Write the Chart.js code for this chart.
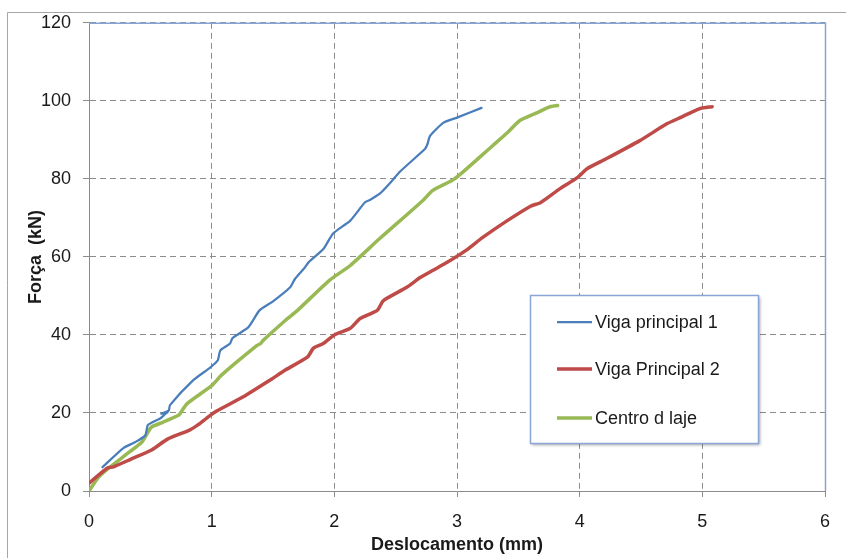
<!DOCTYPE html>
<html lang="pt">
  <head>
    <meta charset="UTF-8" />
    <script src="https://cdn.jsdelivr.net/npm/chart.js@4.4.1/dist/chart.umd.min.js"></script>
    <style>
      body { margin: 0; background: #fff; }
      #wrap { width: 846px; height: 558px; }
    </style>
  </head>
  <body>
    <div id="wrap">
      <canvas id="myChart" width="846" height="558"></canvas>
    </div>

    <script>
      // series names
      const seriesNames = ["Viga principal 1", "Viga Principal 2", "Centro d laje"];

      // Viga principal 1 (blue)
      const viga1X = [0.11, 0.28, 0.375, 0.46, 0.48, 0.58, 0.61, 0.64, 0.59, 0.65, 0.66, 0.85, 0.99, 1.05, 1.07, 1.15, 1.17, 1.3, 1.39, 1.5, 1.64, 1.68, 1.76, 1.79, 1.91, 1.99, 2.13, 2.25, 2.29, 2.37, 2.45, 2.54, 2.74, 2.76, 2.78, 2.89, 3.0, 3.2];
      const viga1Y = [6.1, 11, 12.5, 14.3, 16.9, 18.6, 19.4, 20.2, 19.8, 20.6, 22, 28.4, 31.7, 33.5, 36, 37.8, 39.2, 42, 46.3, 48.6, 52.2, 54.4, 57.3, 58.6, 62, 66, 69.3, 74, 74.6, 76.2, 78.8, 82, 87.7, 89, 91, 94.4, 95.7, 98.2];

      // Viga Principal 2 (red)
      const viga2X = [0, 0.15, 0.2, 0.33, 0.51, 0.64, 0.82, 0.89, 0.96, 1.03, 1.25, 1.48, 1.6, 1.78, 1.83, 1.91, 2.0, 2.13, 2.21, 2.35, 2.4, 2.59, 2.7, 2.8, 2.92, 3.07, 3.21, 3.41, 3.6, 3.68, 3.84, 3.98, 4.06, 4.22, 4.49, 4.71, 4.82, 4.98, 5.08];
      const viga2Y = [2, 5.9, 6.2, 8, 10.5, 13.3, 15.6, 17, 18.7, 20.3, 24, 28.5, 31, 34.3, 36.6, 37.8, 40, 41.7, 44.2, 46.3, 48.8, 52.2, 54.7, 56.5, 58.6, 61.6, 65, 69.3, 73, 73.9, 77.5, 80.3, 82.6, 85.2, 89.8, 94.1, 95.7, 98, 98.5];

      // Centro d laje (green)
      const lajeX = [0, 0.08, 0.17, 0.33, 0.43, 0.47, 0.51, 0.6, 0.73, 0.75, 0.8, 1.0, 1.08, 1.37, 1.4, 1.42, 1.6, 1.7, 1.96, 2.13, 2.37, 2.72, 2.8, 2.98, 3.29, 3.41, 3.51, 3.65, 3.75, 3.82];
      const lajeY = [0, 3.6, 6.1, 10, 12.5, 14.5, 16.4, 17.6, 19.4, 20.2, 22.4, 27, 29.7, 37.3, 37.8, 38.6, 43.7, 46.3, 54, 57.8, 64.7, 74.4, 77, 80, 88.5, 91.8, 94.9, 96.9, 98.4, 98.8];

      // axis ticks
      const xTicks = [0, 1, 2, 3, 4, 5, 6];
      const yTicks = [0, 20, 40, 60, 80, 100, 120];

      const toPoints = (xs, ys) => xs.map((x, i) => ({ x: x, y: ys[i] }));
      const FONT = "'Liberation Sans', Arial, sans-serif";

      // frame: outer chart border, blue plot border (top/right), legend box
      const framePlugin = {
        id: "frame",
        beforeDraw(chart) {
          const c = chart.ctx;
          c.save();
          c.strokeStyle = "#a6a6a6";
          c.lineWidth = 1;
          c.beginPath();
          c.moveTo(7.5, 558);
          c.lineTo(7.5, 12.5);
          c.lineTo(846, 12.5);
          c.stroke();
          c.restore();
        },
        beforeDatasetsDraw(chart) {
          const c = chart.ctx;
          const a = chart.chartArea;
          c.save();
          c.strokeStyle = "#86a4d4";
          c.lineWidth = 1.5;
          c.beginPath();
          c.moveTo(a.left, a.top + 0.5);
          c.lineTo(a.right + 0.5, a.top + 0.5);
          c.lineTo(a.right + 0.5, a.bottom);
          c.stroke();
          c.restore();
        },
        afterDatasetsDraw(chart) {
          const c = chart.ctx;
          const bx = 530, by = 295, bw = 228, bh = 148;
          c.save();
          c.shadowColor = "rgba(0,0,0,0.35)";
          c.shadowBlur = 3;
          c.shadowOffsetX = 2;
          c.shadowOffsetY = 2;
          c.fillStyle = "#fff";
          c.fillRect(bx, by, bw, bh);
          c.restore();
          c.save();
          c.strokeStyle = "#8aa6d6";
          c.lineWidth = 1.5;
          c.strokeRect(bx + 0.5, by + 0.5, bw, bh);
          const rows = [322, 369, 418];
          c.font = "18px " + FONT;
          c.textBaseline = "middle";
          c.fillStyle = "#1a1a1a";
          chart.data.datasets.forEach((ds, i) => {
            c.strokeStyle = ds.borderColor;
            c.lineWidth = ds.borderWidth;
            c.beginPath();
            c.moveTo(557, rows[i]);
            c.lineTo(592, rows[i]);
            c.stroke();
            c.fillText(ds.label, 595, rows[i] + 1);
          });
          c.restore();
        },
      };

      const ctx = document.getElementById("myChart").getContext("2d");
      const myChart = new Chart(ctx, {
        type: "scatter",
        data: {
          datasets: [
            {
              label: seriesNames[0],
              data: toPoints(viga1X, viga1Y),
              borderColor: "#4a7ebb",
              borderWidth: 2.25,
            },
            {
              label: seriesNames[1],
              data: toPoints(viga2X, viga2Y),
              borderColor: "#be4b48",
              borderWidth: 3.5,
            },
            {
              label: seriesNames[2],
              data: toPoints(lajeX, lajeY),
              borderColor: "#98b954",
              borderWidth: 3.5,
            },
          ],
        },
        options: {
          responsive: false,
          animation: false,
          showLine: true,
          elements: {
            point: { radius: 0, hoverRadius: 0 },
            line: { tension: 0.2, borderCapStyle: "round", borderJoinStyle: "round" },
          },
          layout: { padding: { left: 0, top: 22, right: 21, bottom: 0 } },
          plugins: {
            legend: { display: false },
            tooltip: { enabled: false },
          },
          scales: {
            x: {
              type: "linear",
              min: 0,
              max: 6,
              afterFit: (scale) => { scale.height = 67; },
              afterBuildTicks: (scale) => { scale.ticks = xTicks.map((v) => ({ value: v })); },
              grid: {
                color: "#8c8c8c",
                tickColor: "#8c8c8c",
                tickLength: 6,
                tickBorderDash: [],
              },
              border: { color: "#8c8c8c", width: 1, dash: [6, 4] },
              ticks: {
                padding: 14,
                color: "#1a1a1a",
                font: { family: FONT, size: 18 },
              },
              title: {
                display: true,
                text: "Deslocamento (mm)",
                color: "#1a1a1a",
                font: { family: FONT, size: 18, weight: "bold" },
                padding: { top: 0, bottom: 2 },
              },
            },
            y: {
              type: "linear",
              min: 0,
              max: 120,
              afterFit: (scale) => { scale.width = 89; },
              afterBuildTicks: (scale) => { scale.ticks = yTicks.map((v) => ({ value: v })); },
              grid: {
                color: "#8c8c8c",
                tickColor: "#8c8c8c",
                tickLength: 6,
                tickBorderDash: [],
              },
              border: { color: "#8c8c8c", width: 1, dash: [6, 4] },
              ticks: {
                padding: 12,
                color: "#1a1a1a",
                font: { family: FONT, size: 18 },
              },
              title: {
                display: true,
                text: "Força  (kN)",
                color: "#1a1a1a",
                font: { family: FONT, size: 18, weight: "bold" },
                padding: { top: 25, bottom: 0 },
              },
            },
          },
        },
        plugins: [framePlugin],
      });
    </script>
  </body>
</html>
